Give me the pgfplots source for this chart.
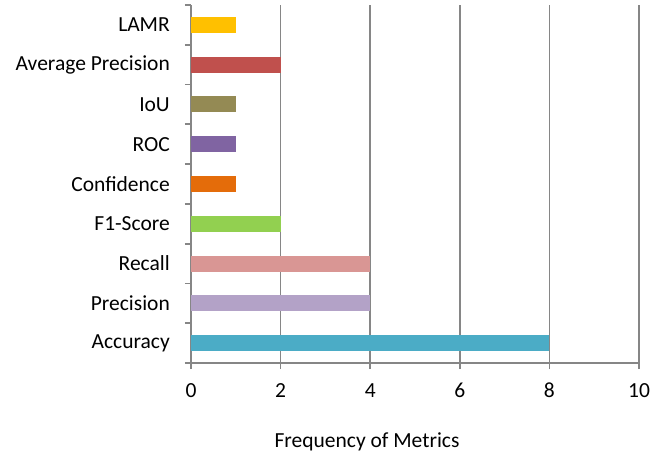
\documentclass[border=0pt]{standalone}
\usepackage{pgfplots}
\pgfplotsset{compat=1.18}
\usepackage{fontspec}
\setmainfont{Carlito}

\definecolor{cLAMR}{HTML}{FFC000}
\definecolor{cAP}{HTML}{C0504D}
\definecolor{cIoU}{HTML}{948A54}
\definecolor{cROC}{HTML}{8064A2}
\definecolor{cConf}{HTML}{E46C0A}
\definecolor{cF1}{HTML}{92D050}
\definecolor{cRecall}{HTML}{D99694}
\definecolor{cPrec}{HTML}{B3A2C7}
\definecolor{cAcc}{HTML}{4BACC6}
\definecolor{axgray}{HTML}{868686}

\begin{document}
\begin{tikzpicture}
\useasboundingbox (-191bp,-90bp) rectangle (476bp,363bp);
\begin{axis}[
  at={(0,0)}, anchor=south west,
  scale only axis,
  width=448bp, height=358bp,
  font=\fontsize{21.5bp}{26bp}\selectfont,
  xmin=0, xmax=10,
  ymin=-0.5, ymax=8.5,
  xtick={0,2,4,6,8,10},
  ytick={-0.5,0.5,...,8.5},
  yticklabels={Accuracy,Precision,Recall,F1-Score,Confidence,ROC,IoU,Average Precision,LAMR,{}},
  /pgf/number format/assume math mode=true,
  xmajorgrids,
  grid style={axgray, line width=1.7bp},
  axis x line*=bottom,
  axis y line*=left,
  axis line style={axgray, line width=1.7bp, -},
  tick style={axgray, line width=1.7bp},
  tick align=outside,
  major tick length=6bp,
  xticklabel style={anchor=north, inner sep=0pt, yshift=-14bp},
  yticklabel style={anchor=east, inner sep=0pt, xshift=-15bp, yshift=19.9bp},
  xlabel={Frequency of Metrics},
  xlabel style={inner sep=0pt, xshift=-48bp, yshift=-34bp},
  xbar, bar width=16bp, bar shift=0pt,
]
\addplot[fill=cAcc, draw=none] coordinates {(8,0)};
\addplot[fill=cPrec, draw=none] coordinates {(4,1)};
\addplot[fill=cRecall, draw=none] coordinates {(4,2)};
\addplot[fill=cF1, draw=none] coordinates {(2,3)};
\addplot[fill=cConf, draw=none] coordinates {(1,4)};
\addplot[fill=cROC, draw=none] coordinates {(1,5)};
\addplot[fill=cIoU, draw=none] coordinates {(1,6)};
\addplot[fill=cAP, draw=none] coordinates {(2,7)};
\addplot[fill=cLAMR, draw=none] coordinates {(1,8)};
\end{axis}
\end{tikzpicture}
\end{document}
